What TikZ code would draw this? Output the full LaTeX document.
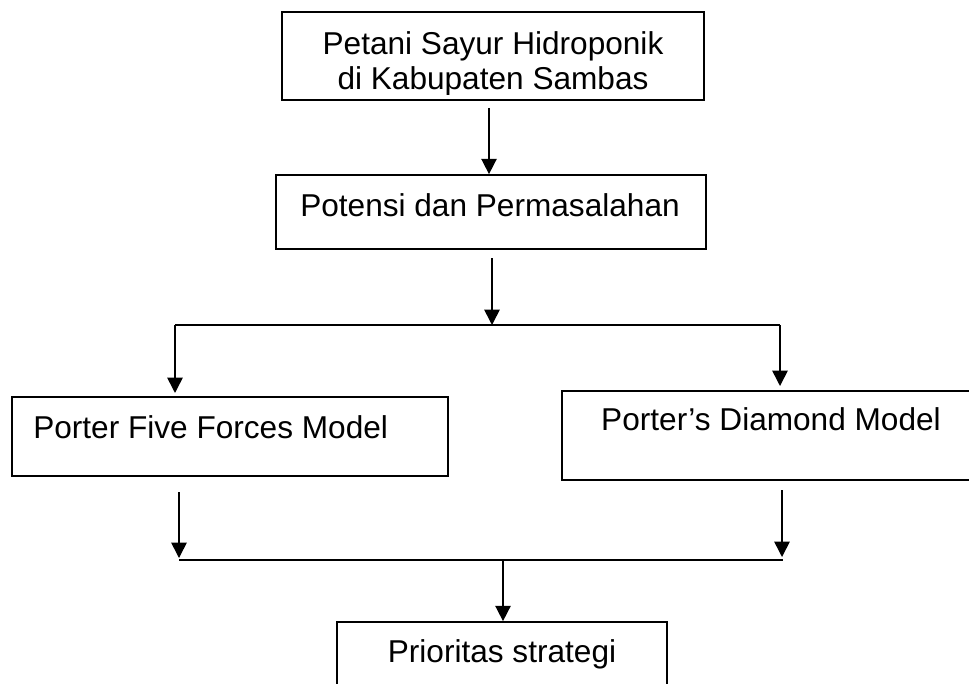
\documentclass[tikz,border=0pt]{standalone}
\usepackage{fontspec}
\setmainfont{Liberation Sans}
\usetikzlibrary{arrows.meta}
\begin{document}
\begin{tikzpicture}[x=0.75pt,y=-0.75pt,
  boxnode/.style={draw=black,line width=1.3pt,inner sep=0pt,fill=none},
  txt/.style={inner sep=0pt,font=\fontsize{23.7}{26}\selectfont},
  conn/.style={line width=1.2pt},
  arr/.style={line width=1.2pt,-{Triangle[width=11.5pt,length=11.5pt]}}]
\clip (0,0) rectangle (969,684);
\fill[white] (0,0) rectangle (969,684);
% boxes
\node[boxnode,minimum width=316.5pt,minimum height=66pt] (box1) at (493,56) {};
\node[boxnode,minimum width=322.5pt,minimum height=55.5pt] (box2) at (491,212) {};
\node[boxnode,minimum width=327pt,minimum height=59.25pt] (box3) at (230,436.5) {};
\node[boxnode,minimum width=309.75pt,minimum height=66.75pt] (box4) at (768.5,435.5) {};
\node[boxnode,minimum width=247.5pt,minimum height=58.5pt] (box5) at (502,661) {};
% texts
\begin{scope}
\clip (283,13) rectangle (703,94.5);
\node[txt,anchor=base] (t1a) at (493,55) {Petani Sayur Hidroponik};
\node[txt,anchor=base] (t1b) at (493,89.5) {di Kabupaten Sambas};
\end{scope}
\node[txt,anchor=base] (t2) at (490,216) {Potensi dan Permasalahan};
\node[txt,anchor=base west] (t3) at (33,438) {Porter Five Forces Model};
\node[txt,anchor=base] (t4) at (771,430) {Porter’s Diamond Model};
\node[txt,anchor=base] (t5) at (502,662) {Prioritas strategi};
% connector coordinates
\coordinate (a1) at (489,108);
\coordinate (a2) at (492,258);
\coordinate (sp) at (492,325);
\coordinate (spL) at (175,325);
\coordinate (spR) at (780,325);
\coordinate (e3) at (175,393);
\coordinate (e4) at (780,386);
\coordinate (b3) at (179,492);
\coordinate (b4) at (782,490);
\coordinate (jL) at (179,560);
\coordinate (jR) at (783,560);
\coordinate (j3) at (179,558);
\coordinate (j4) at (782,557);
\coordinate (jm) at (503,560);
% connectors
\draw[arr] (a1) -- (a1 |- box2.north);
\draw[arr] (a2) -- (sp);
\draw[conn] (spL) -- (spR);
\draw[arr] (spL) -- (e3);
\draw[arr] (spR) -- (e4);
\draw[arr] (b3) -- (j3);
\draw[arr] (b4) -- (j4);
\draw[conn] (jL) -- (jR);
\draw[arr] (jm) -- (jm |- box5.north);
\end{tikzpicture}
\end{document}
